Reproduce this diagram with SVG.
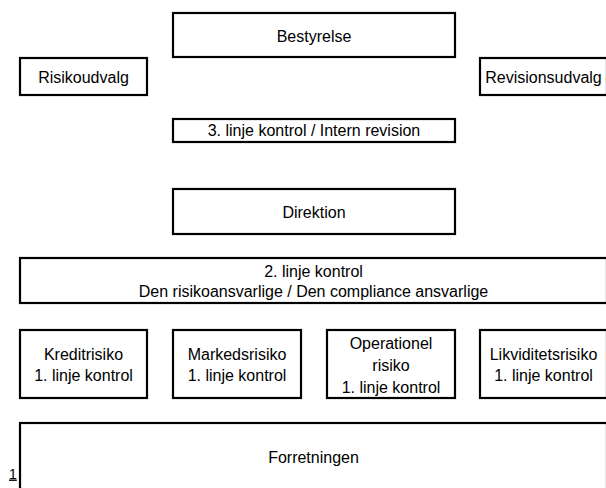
<svg xmlns="http://www.w3.org/2000/svg" width="606" height="488" viewBox="0 0 606 488">
<style>
.box{fill:#fff;stroke:#000;stroke-width:2.2}
.t{font-family:"Liberation Sans",Arial,sans-serif;font-size:16px;fill:#000;text-anchor:middle}
.fn{font-family:"Liberation Sans",Arial,sans-serif;font-size:14px;fill:#000;text-decoration:underline}
</style>
<rect width="606" height="488" fill="#fff"/>
<g id="connectors"/>
<g id="bestyrelse"><rect class="box" x="173" y="13" width="282" height="44"/><text class="t" x="314" y="42">Bestyrelse</text></g>
<g id="risikoudvalg"><rect class="box" x="20" y="58" width="127" height="37"/><text class="t" x="83.5" y="83">Risikoudvalg</text></g>
<g id="revisionsudvalg"><rect class="box" x="480" y="58" width="127" height="37"/><text class="t" x="543.5" y="83">Revisionsudvalg</text></g>
<g id="linje3"><rect class="box" x="173" y="119" width="282" height="23"/><text class="t" x="314" y="136">3. linje kontrol / Intern revision</text></g>
<g id="direktion"><rect class="box" x="173" y="189" width="282" height="45"/><text class="t" x="314" y="218">Direktion</text></g>
<g id="linje2"><rect class="box" x="20" y="258" width="587" height="45"/><text class="t" x="313.5" y="277">2. linje kontrol</text><text class="t" x="313.5" y="297">Den risikoansvarlige / Den compliance ansvarlige</text></g>
<g id="kreditrisiko"><rect class="box" x="20" y="330" width="127" height="68"/><text class="t" x="83.5" y="359.5">Kreditrisiko</text><text class="t" x="83.5" y="381">1. linje kontrol</text></g>
<g id="markedsrisiko"><rect class="box" x="173" y="330" width="128" height="68"/><text class="t" x="237" y="359.5">Markedsrisiko</text><text class="t" x="237" y="381">1. linje kontrol</text></g>
<g id="operationel"><rect class="box" x="327" y="330" width="128" height="68"/><text class="t" x="391" y="349">Operationel</text><text class="t" x="391" y="371">risiko</text><text class="t" x="391" y="393">1. linje kontrol</text></g>
<g id="likviditetsrisiko"><rect class="box" x="480" y="330" width="127" height="68"/><text class="t" x="543.5" y="359.5">Likviditetsrisiko</text><text class="t" x="543.5" y="381">1. linje kontrol</text></g>
<g id="forretningen"><rect class="box" x="20" y="423" width="587" height="80"/><text class="t" x="313.5" y="463">Forretningen</text></g>
<g id="footnote"><text class="fn" x="9" y="478.5">1</text></g>
</svg>
